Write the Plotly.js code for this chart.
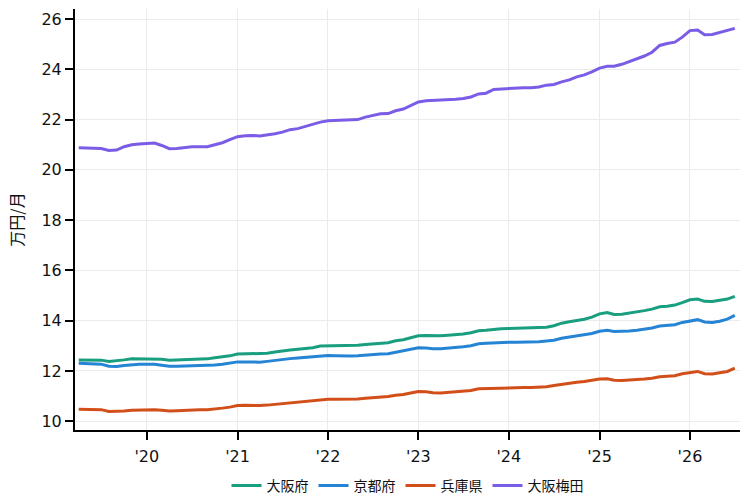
<!DOCTYPE html>
<html>
<head>
<meta charset="utf-8">
<script src="https://cdn.plot.ly/plotly-3.0.1.min.js"></script>
<style>
  html, body { margin: 0; padding: 0; background: #fff; }
  #chart { width: 750px; height: 502px; }
</style>
</head>
<body>
<div id="chart"></div>
<script>
// monthly, 2019-04 .. 2026-07 (万円/月)
const months = [];
for (let y = 2019; y <= 2026; y++) {
  for (let m = 1; m <= 12; m++) {
    if (y === 2019 && m < 4) continue;
    if (y === 2026 && m > 7) continue;
    months.push(`${y}-${String(m).padStart(2, '0')}-01`);
  }
}

const osakaFu = [
  12.44, 12.44, 12.43, 12.43, 12.38, 12.40, 12.44, 12.48, 12.48,
  12.48, 12.48, 12.46, 12.43, 12.44, 12.46, 12.47, 12.48, 12.48, 12.52, 12.55, 12.60,
  12.67, 12.68, 12.68, 12.68, 12.70, 12.75, 12.80, 12.83, 12.86, 12.88, 12.92, 12.99,
  13.00, 13.00, 13.00, 13.00, 13.02, 13.05, 13.08, 13.10, 13.12, 13.20, 13.24, 13.32,
  13.40, 13.41, 13.40, 13.40, 13.42, 13.44, 13.47, 13.52, 13.60, 13.62, 13.66, 13.68,
  13.69, 13.70, 13.70, 13.70, 13.72, 13.74, 13.80, 13.90, 13.96, 14.00, 14.06, 14.14,
  14.27, 14.32, 14.25, 14.26, 14.30, 14.35, 14.40, 14.46, 14.55, 14.57, 14.62, 14.72,
  14.83, 14.86, 14.77, 14.76, 14.82, 14.86, 14.97
];

const kyotoFu = [
  12.31, 12.30, 12.28, 12.27, 12.19, 12.18, 12.22, 12.26, 12.27,
  12.27, 12.27, 12.23, 12.19, 12.19, 12.20, 12.21, 12.22, 12.22, 12.24, 12.27, 12.31,
  12.36, 12.36, 12.35, 12.35, 12.38, 12.42, 12.47, 12.49, 12.51, 12.53, 12.56, 12.60,
  12.61, 12.60, 12.59, 12.59, 12.60, 12.63, 12.66, 12.67, 12.68, 12.74, 12.78, 12.85,
  12.92, 12.91, 12.88, 12.88, 12.90, 12.92, 12.96, 13.00, 13.08, 13.10, 13.12, 13.13,
  13.14, 13.14, 13.14, 13.14, 13.16, 13.19, 13.22, 13.30, 13.35, 13.40, 13.44, 13.49,
  13.58, 13.62, 13.57, 13.57, 13.59, 13.62, 13.66, 13.71, 13.79, 13.81, 13.84, 13.93,
  14.00, 14.04, 13.95, 13.93, 13.98, 14.06, 14.21
];

const hyogoKen = [
  10.48, 10.47, 10.47, 10.46, 10.39, 10.39, 10.41, 10.44, 10.45,
  10.46, 10.46, 10.44, 10.41, 10.42, 10.44, 10.45, 10.46, 10.46, 10.48, 10.52, 10.56,
  10.62, 10.63, 10.62, 10.62, 10.64, 10.67, 10.71, 10.73, 10.75, 10.78, 10.81, 10.85,
  10.87, 10.87, 10.87, 10.87, 10.88, 10.91, 10.93, 10.95, 10.98, 11.03, 11.06, 11.12,
  11.18, 11.17, 11.13, 11.12, 11.14, 11.16, 11.18, 11.22, 11.29, 11.30, 11.32, 11.33,
  11.34, 11.34, 11.34, 11.34, 11.35, 11.37, 11.42, 11.47, 11.51, 11.55, 11.58, 11.62,
  11.68, 11.69, 11.63, 11.62, 11.63, 11.65, 11.68, 11.71, 11.77, 11.79, 11.81, 11.89,
  11.95, 11.98, 11.89, 11.88, 11.93, 11.98, 12.11
];

const osakaUmeda = [
  20.88, 20.87, 20.87, 20.85, 20.77, 20.79, 20.92, 21.00, 21.03,
  21.05, 21.07, 20.97, 20.84, 20.85, 20.90, 20.92, 20.92, 20.92, 21.00, 21.08, 21.20,
  21.32, 21.36, 21.37, 21.35, 21.38, 21.44, 21.50, 21.60, 21.64, 21.72, 21.82, 21.90,
  21.95, 21.97, 21.98, 21.99, 22.00, 22.10, 22.17, 22.23, 22.24, 22.35, 22.42, 22.56,
  22.70, 22.75, 22.76, 22.76, 22.79, 22.81, 22.84, 22.90, 23.02, 23.05, 23.20, 23.22,
  23.22, 23.26, 23.27, 23.27, 23.30, 23.37, 23.40, 23.50, 23.58, 23.70, 23.78, 23.90,
  24.05, 24.12, 24.12, 24.20, 24.30, 24.42, 24.53, 24.68, 24.95, 25.03, 25.08, 25.28,
  25.54, 25.56, 25.38, 25.39, 25.47, 25.55, 25.63
];

const seriesNames = ['大阪府', '京都府', '兵庫県', '大阪梅田'];
const seriesValues = [osakaFu, kyotoFu, hyogoKen, osakaUmeda];
const colors = ['#199e80', '#2584d4', '#d24f1a', '#7b5ce6'];

const traces = seriesNames.map((name, i) => ({
  x: months,
  y: seriesValues[i],
  name: name,
  type: 'scatter',
  mode: 'lines',
  line: { color: colors[i], width: 3 }
}));

const axisFont = { family: 'DejaVu Sans, Verdana, sans-serif', size: 16, color: '#111' };

Plotly.newPlot('chart', traces, {
  width: 750,
  height: 502,
  margin: { l: 75, r: 10, t: 9, b: 72 },
  paper_bgcolor: '#fff',
  plot_bgcolor: '#fff',
  font: { family: '"Noto Sans CJK JP", DejaVu Sans, sans-serif', size: 14, color: '#111' },
  xaxis: {
    type: 'date',
    range: ['2019-03-17', '2026-07-22'],
    tickvals: ['2020-01-01', '2021-01-01', '2022-01-01', '2023-01-01', '2024-01-01', '2025-01-01', '2026-01-01'],
    ticktext: ["'20", "'21", "'22", "'23", "'24", "'25", "'26"],
    tickfont: axisFont,
    ticklabelstandoff: 3,
    showgrid: true,
    gridcolor: '#ebebeb',
    gridwidth: 1,
    showline: true,
    linecolor: '#000',
    linewidth: 2,
    ticks: 'outside',
    ticklen: 8,
    tickwidth: 2,
    tickcolor: '#000',
    zeroline: false
  },
  yaxis: {
    range: [9.65, 26.4],
    tickvals: [10, 12, 14, 16, 18, 20, 22, 24, 26],
    tickfont: axisFont,
    title: { text: '万円/月', font: { family: '"Noto Sans CJK JP", sans-serif', size: 16, color: '#111' }, standoff: 14 },
    showgrid: true,
    gridcolor: '#ebebeb',
    gridwidth: 1,
    showline: true,
    linecolor: '#000',
    linewidth: 2,
    ticks: 'outside',
    ticklen: 8,
    tickwidth: 2,
    tickcolor: '#000',
    zeroline: false
  },
  showlegend: true,
  legend: {
    orientation: 'h',
    xref: 'paper',
    yref: 'container',
    x: 0.5,
    xanchor: 'center',
    y: 0,
    yanchor: 'bottom',
    font: { family: '"Noto Sans CJK JP", sans-serif', size: 14, color: '#111' }
  }
}, { displayModeBar: false, staticPlot: true });
</script>
</body>
</html>
